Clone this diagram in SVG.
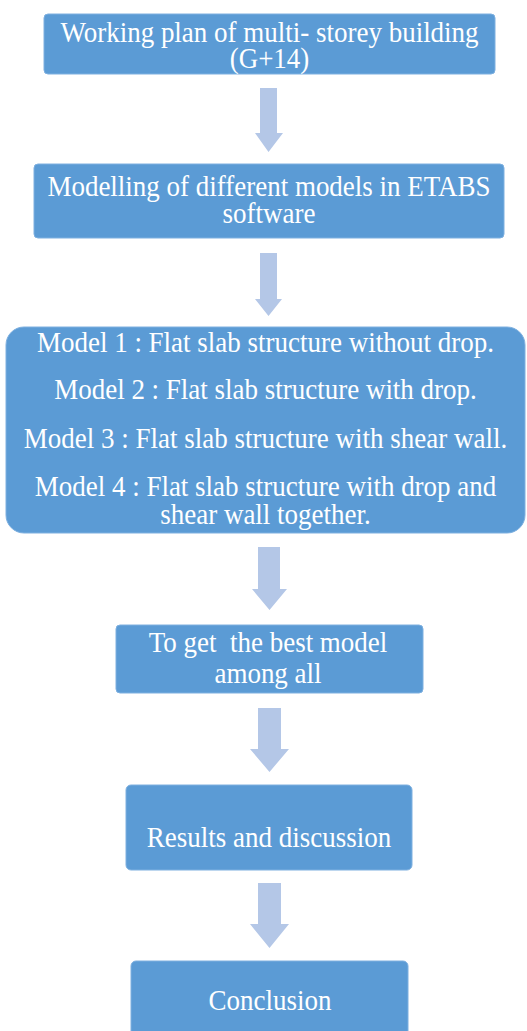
<svg xmlns="http://www.w3.org/2000/svg" width="527" height="1031" viewBox="0 0 527 1031">
<style>
.box{fill:#5B9BD5;stroke:#7EB0E0;stroke-width:1}
.arrow{fill:#B4C7E7}
.t{font-family:"Liberation Serif","Times New Roman",serif;font-size:30px;fill:#FFFFFF;text-anchor:middle}
</style>
<rect width="527" height="1031" fill="#FFFFFF"/>
<g id="connectors">
<polygon class="arrow" points="260,88 277,88 277,133 283,133 268.5,152 255,133 260,133"/>
<polygon class="arrow" points="260,253 277,253 277,299 282,299 268.5,316 255,299 260,299"/>
<polygon class="arrow" points="258,547 280,547 280,589 287,589 269.5,610 252,589 258,589"/>
<polygon class="arrow" points="258,708 281,708 281,749 289,749 269.5,772 250,749 258,749"/>
<polygon class="arrow" points="258,883 281,883 281,924 289,924 269.5,948 250,924 258,924"/>
</g>
<g id="node1">
<rect class="box" x="44" y="14" width="451" height="60" rx="4"/>
<g transform="translate(269.5,0) scale(0.9,1)">
<text class="t" x="0" y="42">Working plan of multi- storey building</text>
<text class="t" x="0" y="68">(G+14)</text>
</g>
</g>
<g id="node2">
<rect class="box" x="34" y="164" width="470" height="74" rx="4"/>
<g transform="translate(269,0) scale(0.9,1)">
<text class="t" x="0" y="196">Modelling of different models in ETABS</text>
<text class="t" x="0" y="223">software</text>
</g>
</g>
<g id="node3">
<rect class="box" x="6" y="327" width="519" height="206" rx="18"/>
<g transform="translate(265.5,0) scale(0.9,1)">
<text class="t" x="0" y="352">Model 1 : Flat slab structure without drop.</text>
<text class="t" x="0" y="399">Model 2 : Flat slab structure with drop.</text>
<text class="t" x="0" y="448">Model 3 : Flat slab structure with shear wall.</text>
<text class="t" x="0" y="496">Model 4 : Flat slab structure with drop and</text>
<text class="t" x="0" y="524">shear wall  together.</text>
</g>
</g>
<g id="node4">
<rect class="box" x="116" y="625" width="307" height="68" rx="4"/>
<g transform="translate(268,0) scale(0.9,1)">
<text class="t" x="0" y="652" xml:space="preserve">To get  the best model</text>
<text class="t" x="0" y="683">among all</text>
</g>
</g>
<g id="node5">
<rect class="box" x="126" y="785" width="286" height="85" rx="5"/>
<g transform="translate(269,0) scale(0.9,1)">
<text class="t" x="0" y="847">Results and discussion</text>
</g>
</g>
<g id="node6">
<rect class="box" x="131" y="961" width="277" height="90" rx="5"/>
<g transform="translate(270,0) scale(0.9,1)">
<text class="t" x="0" y="1010">Conclusion</text>
</g>
</g>
</svg>
